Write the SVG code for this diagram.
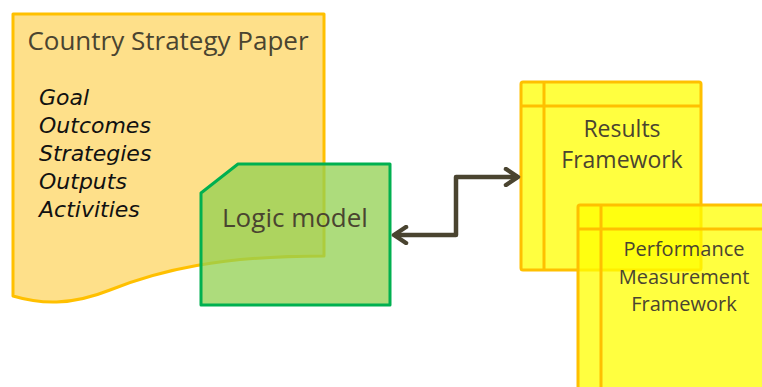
<svg xmlns="http://www.w3.org/2000/svg" width="762" height="387" viewBox="0 0 762 387">
<defs>
<style>
.lbl{font-family:"Open Sans","Liberation Sans",sans-serif;fill:#4a4430;}
.hand{font-family:"DejaVu Sans","Liberation Sans",sans-serif;font-style:italic;font-size:22px;fill:#111;}
.store{fill:#ffff00;fill-opacity:0.75;stroke:#ffc000;stroke-width:3;}
.store-line{stroke:#ffc000;stroke-width:3;fill:none;}
</style>
<marker id="chev" viewBox="0 0 20 20" refX="16" refY="10" markerWidth="20" markerHeight="20" markerUnits="userSpaceOnUse" orient="auto-start-reverse">
<path d="M4 2 L16 10 L4 18" fill="none" stroke="#4a4430" stroke-width="4.5" stroke-linecap="round" stroke-linejoin="round"/>
</marker>
</defs>
<g id="country-strategy-paper">
<path d="M13 14 L324 14 L324 256 C220 256 160 270 110 290 C70 306 40 304 13 296 Z" fill="#fee08a" stroke="#ffc000" stroke-width="3" stroke-linejoin="round"/>
<text class="lbl" x="168" y="50" font-size="26" text-anchor="middle">Country Strategy Paper</text>
<text class="hand" x="39" y="105">Goal</text>
<text class="hand" x="39" y="133">Outcomes</text>
<text class="hand" x="39" y="161">Strategies</text>
<text class="hand" x="39" y="189">Outputs</text>
<text class="hand" x="39" y="217">Activities</text>
</g>
<g id="logic-model">
<path d="M238 164 L390 164 L390 305 L201 305 L201 193 Z" fill="#92d050" fill-opacity="0.75" stroke="#00b050" stroke-width="3" stroke-linejoin="round"/>
<text class="lbl" x="295" y="227" font-size="26" text-anchor="middle">Logic model</text>
</g>
<g id="results-framework">
<rect class="store" x="521" y="82" width="180" height="188" rx="2"/>
<path class="store-line" d="M544 82 V270 M521 106 H701"/>
<text class="lbl" x="622" y="137" font-size="23" text-anchor="middle">Results</text>
<text class="lbl" x="622" y="168" font-size="23" text-anchor="middle">Framework</text>
</g>
<g id="performance-measurement-framework">
<rect class="store" x="578" y="205" width="200" height="200" rx="2"/>
<path class="store-line" d="M601 205 V400 M578 229 H778"/>
<text class="lbl" x="684" y="256" font-size="20" text-anchor="middle">Performance</text>
<text class="lbl" x="684" y="284" font-size="20" text-anchor="middle">Measurement</text>
<text class="lbl" x="684" y="311" font-size="20" text-anchor="middle">Framework</text>
</g>
<g id="connectors">
<path d="M394 235 H456 V177 H518" fill="none" stroke="#4a4430" stroke-width="4.5" stroke-linejoin="round" marker-start="url(#chev)" marker-end="url(#chev)"/>
</g>
</svg>
